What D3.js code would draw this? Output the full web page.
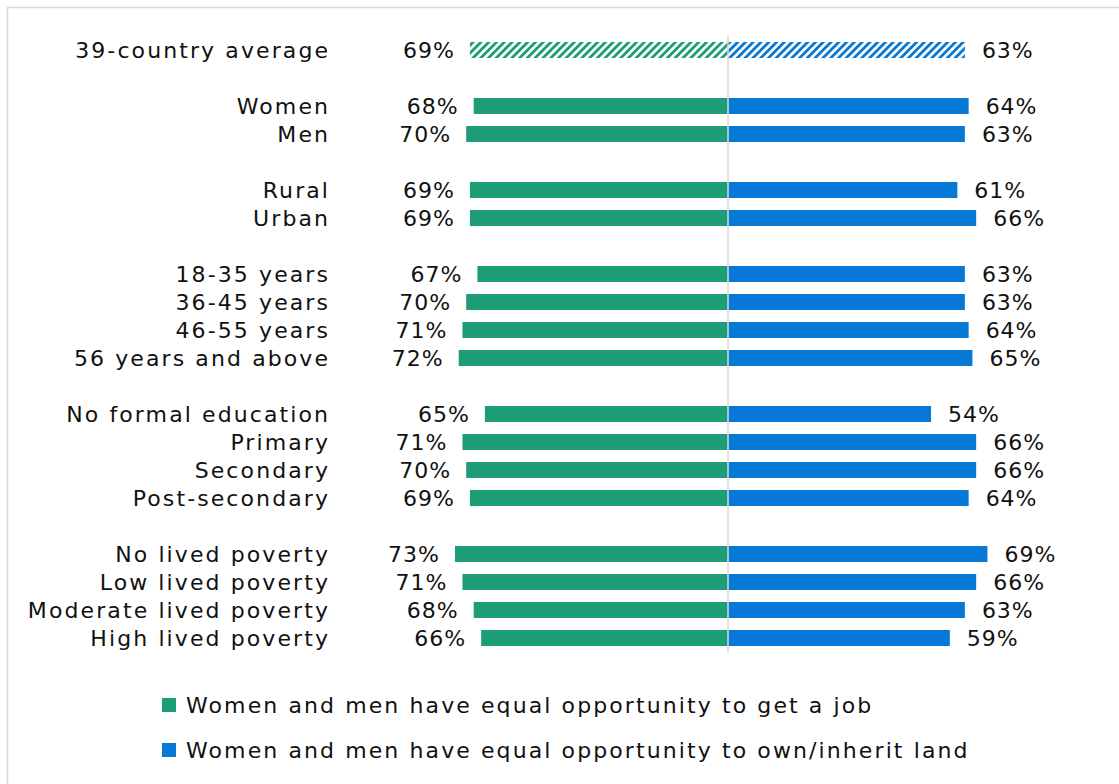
<!DOCTYPE html>
<html>
<head>
<meta charset="utf-8">
<script src="https://cdn.jsdelivr.net/npm/d3@7"></script>
<style>
  html, body { margin: 0; padding: 0; background: #fff; }
  svg { display: block; }
  text { font-family: "DejaVu Sans", sans-serif; fill: #111; }
</style>
</head>
<body>
<script>
// Row labels; empty strings are spacer rows between groups
const categories = [
  "39-country average", "",
  "Women", "Men", "",
  "Rural", "Urban", "",
  "18-35 years", "36-45 years", "46-55 years", "56 years and above", "",
  "No formal education", "Primary", "Secondary", "Post-secondary", "",
  "No lived poverty", "Low lived poverty", "Moderate lived poverty", "High lived poverty"
];
// Percent agreeing: equal opportunity to get a job
const jobValues = [
  69, null,
  68, 70, null,
  69, 69, null,
  67, 70, 71, 72, null,
  65, 71, 70, 69, null,
  73, 71, 68, 66
];
// Percent agreeing: equal opportunity to own/inherit land
const landValues = [
  63, null,
  64, 63, null,
  61, 66, null,
  63, 63, 64, 65, null,
  54, 66, 66, 64, null,
  69, 66, 63, 59
];
const seriesNames = [
  "Women and men have equal opportunity to get a job",
  "Women and men have equal opportunity to own/inherit land"
];

const W = 1119, H = 784;
const green = "#1c9d78", blue = "#0678d6";
const center = 728;

const svg = d3.select("body").append("svg").attr("width", W).attr("height", H);

// Hatched fills for the average row
const defs = svg.append("defs");
[["hatchGreen", green], ["hatchBlue", blue]].forEach(([id, c]) => {
  const p = defs.append("pattern")
    .attr("id", id).attr("patternUnits", "userSpaceOnUse")
    .attr("width", 5.5).attr("height", 5.5)
    .attr("patternTransform", "rotate(45)");
  p.append("rect").attr("width", 5.5).attr("height", 5.5).attr("fill", "#fff");
  p.append("rect").attr("width", 2.8).attr("height", 5.5).attr("fill", c);
});

// Chart frame
svg.append("rect")
  .attr("x", 7.5).attr("y", 7.5).attr("width", W).attr("height", H)
  .attr("fill", "none").attr("stroke", "#d9d9d9").attr("stroke-width", 1.5);

const y = d3.scalePoint().domain(d3.range(categories.length)).range([50, 50 + 28 * (categories.length - 1)]);
const xLeft = d3.scaleLinear().domain([0, 100]).range([center, center - 374]);
const xRight = d3.scaleLinear().domain([0, 100]).range([center, center + 376]);
const barH = 16;

const rows = categories.map((c, i) => ({ i, label: c, job: jobValues[i], land: landValues[i] }))
  .filter(d => d.label !== "");

// Left bars (job)
svg.append("g").selectAll("rect").data(rows).join("rect")
  .attr("x", d => xLeft(d.job))
  .attr("y", d => y(d.i) - barH / 2)
  .attr("width", d => xLeft(0) - xLeft(d.job))
  .attr("height", barH)
  .attr("fill", d => d.i === 0 ? "url(#hatchGreen)" : green);

// Right bars (land)
svg.append("g").selectAll("rect").data(rows).join("rect")
  .attr("x", xRight(0))
  .attr("y", d => y(d.i) - barH / 2)
  .attr("width", d => xRight(d.land) - xRight(0))
  .attr("height", barH)
  .attr("fill", d => d.i === 0 ? "url(#hatchBlue)" : blue);

// Center axis line
svg.append("line")
  .attr("x1", center).attr("x2", center)
  .attr("y1", 36).attr("y2", 652)
  .attr("stroke", "#d9d9d9").attr("stroke-width", 1.5);

const fs = 22;
const lsText = 2.1, lsVal = 1;

// Category labels
svg.append("g").selectAll("text").data(rows).join("text")
  .attr("x", 328 + lsText).attr("y", d => y(d.i))
  .attr("dy", "0.36em")
  .attr("text-anchor", "end")
  .attr("font-size", fs)
  .attr("letter-spacing", lsText)
  .text(d => d.label);

// Value labels
svg.append("g").selectAll("text").data(rows).join("text")
  .attr("x", d => xLeft(d.job) - 16 + lsVal).attr("y", d => y(d.i))
  .attr("dy", "0.36em")
  .attr("text-anchor", "end")
  .attr("font-size", fs)
  .attr("letter-spacing", lsVal)
  .text(d => d.job + "%");

svg.append("g").selectAll("text").data(rows).join("text")
  .attr("x", d => xRight(d.land) + 17).attr("y", d => y(d.i))
  .attr("dy", "0.36em")
  .attr("text-anchor", "start")
  .attr("font-size", fs)
  .attr("letter-spacing", lsVal)
  .text(d => d.land + "%");

// Legend
const legend = svg.append("g").selectAll("g").data(seriesNames).join("g")
  .attr("transform", (d, i) => `translate(162, ${705 + i * 45})`);
legend.append("rect")
  .attr("x", 0).attr("y", -7).attr("width", 14).attr("height", 14)
  .attr("fill", (d, i) => i === 0 ? green : blue);
legend.append("text")
  .attr("x", 24).attr("y", 0).attr("dy", "0.36em")
  .attr("font-size", fs)
  .attr("letter-spacing", lsText)
  .text(d => d);
</script>
</body>
</html>
